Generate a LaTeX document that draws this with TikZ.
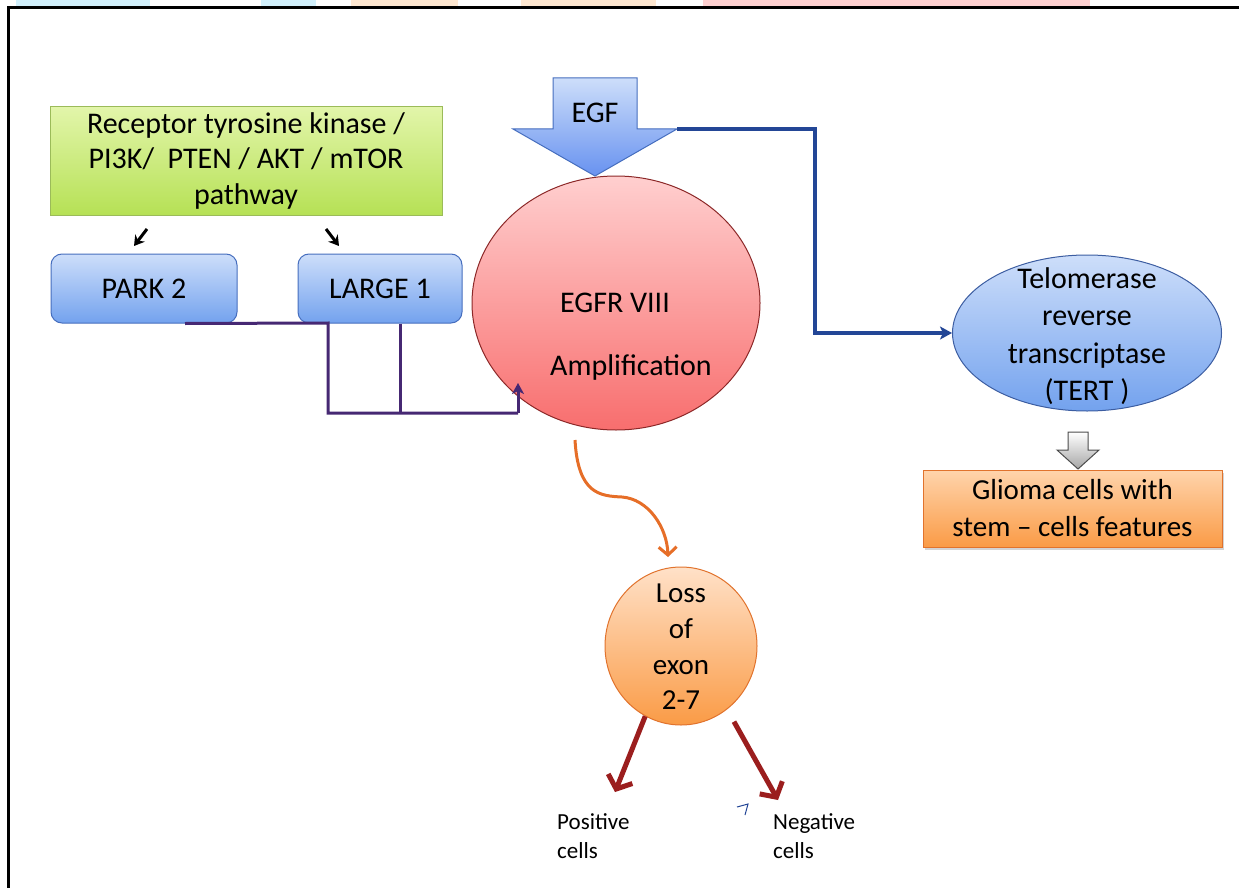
\documentclass[tikz,border=0pt]{standalone}
\usepackage{fontspec}
\setmainfont{Carlito}
\usetikzlibrary{arrows.meta,shapes.geometric,shadows}
\definecolor{greenTop}{RGB}{226,245,170}
\definecolor{greenBot}{RGB}{182,225,85}
\definecolor{greenEdge}{RGB}{155,187,89}
\definecolor{blueTop}{RGB}{205,222,250}
\definecolor{blueBot}{RGB}{115,162,238}
\definecolor{blueEdge}{RGB}{70,110,190}
\definecolor{redTop}{RGB}{255,207,207}
\definecolor{redBot}{RGB}{248,110,110}
\definecolor{redEdge}{RGB}{140,40,40}
\definecolor{orTop}{RGB}{255,225,200}
\definecolor{orBot}{RGB}{250,155,70}
\definecolor{orEdge}{RGB}{225,115,45}
\definecolor{lineBlue}{RGB}{35,70,150}
\definecolor{linePurple}{RGB}{70,40,115}
\definecolor{lineOrange}{RGB}{230,110,40}
\definecolor{lineRed}{RGB}{155,30,30}
\tikzset{
  txt/.style={inner sep=0pt, align=center, font=\fontsize{30}{37.5}\selectfont},
  smalltxt/.style={inner sep=0pt, align=left, font=\fontsize{23}{29}\selectfont},
  greenbox/.style={draw=greenEdge, line width=1pt, top color=greenTop, bottom color=greenBot,
    minimum width=392pt, minimum height=108pt, inner sep=0pt, align=center,
    font=\fontsize{30}{35.5}\selectfont},
  bluebox/.style={draw=blueEdge, line width=1pt, rounded corners=11pt, top color=blueTop,
    bottom color=blueBot, minimum width=#1, minimum height=69pt, inner sep=0pt,
    font=\fontsize{30}{36}\selectfont},
  redcirc/.style={ellipse, draw=redEdge, line width=1pt, top color=redTop, bottom color=redBot,
    minimum width=288pt, minimum height=254pt, inner sep=0pt},
  tertell/.style={ellipse, draw=blueEdge!85!black, line width=1pt, top color=blueTop,
    bottom color=blueBot, minimum width=269pt, minimum height=156pt, inner sep=0pt},
  orangecirc/.style={ellipse, draw=orEdge, line width=1pt, top color=orTop, bottom color=orBot,
    minimum width=152pt, minimum height=158pt, inner sep=0pt},
  gliomabox/.style={draw=orEdge, line width=1pt, top color={rgb,255:red,255;green,212;blue,172},
    bottom color=orBot, minimum width=299pt, minimum height=77pt, inner sep=0pt, align=center,
    font=\fontsize{29}{37}\selectfont,
    drop shadow={opacity=0.35, shadow xshift=2pt, shadow yshift=-3pt}},
  egfarrow/.style={draw=blueEdge, line width=1pt, top color=blueTop, bottom color=blueBot!90!blue},
  grayarrow/.style={draw=black!70, line width=1pt, top color=white, bottom color=black!35},
  blueline/.style={draw=lineBlue, line width=3.5pt, -{Stealth[length=12pt,width=13pt,inset=3pt]}},
  purpline/.style={draw=linePurple, line width=3pt},
  orangearr/.style={draw=lineOrange, line width=3pt, -{Straight Barb[length=8pt,width=18pt]}},
  redarr/.style={draw=lineRed, line width=5pt, -{Straight Barb[length=11pt,width=26pt]}},
  kinarr/.style={draw=black, line width=3pt, -{Stealth[length=10pt,width=12pt]}}
}
\begin{document}
\begin{tikzpicture}[x=1pt,y=-1pt]
  \useasboundingbox (0,0) rectangle (1239,888);

  % faint strip above the frame
  \fill[cyan!18] (16,0) rectangle (150,7);
  \fill[cyan!18] (261,0) rectangle (316,7);
  \fill[orange!18] (351,0) rectangle (458,7);
  \fill[orange!18] (521,0) rectangle (656,7);
  \fill[red!18] (703,0) rectangle (1090,7);
  \draw[line width=3pt] (8,888) -- (8,8) -- (1239,8);

  \node[greenbox] (rtk) at (246,161) {Receptor tyrosine kinase /\\PI3K/\ \ PTEN / AKT / mTOR\\pathway};
  \node[bluebox=186pt] (park) at (144,288.5) {PARK 2};
  \node[bluebox=164pt] (large) at (380,288.5) {LARGE 1};

  \coordinate (k1) at (147,229);
  \coordinate (k2) at (134,246);
  \coordinate (k3) at (326,229);
  \coordinate (k4) at (339,246);
  \draw[kinarr] (k1) -- (k2);
  \draw[kinarr] (k3) -- (k4);

  \node[redcirc] (egfr) at (616,303) {};
  \node[txt] (egfrtop) at (615,303) {EGFR VIII};
  \node[txt] (egframp) at (631,367) {Amplification};

  % EGF block arrow
  \coordinate (egfR) at (677,129);
  \path[egfarrow] (553,78) -- (637,78) -- (637,129) -- (egfR) -- (595,176) -- (513,129) -- (553,129) -- cycle;
  \node[txt] (egf) at (595,113) {EGF};

  \node[tertell] (tert) at (1087,333) {};
  \node[txt] (terttxt) at (1087,336) {Telomerase\\reverse\\transcriptase\\(TERT )};

  \path[grayarrow] (1068,432) -- (1088,432) -- (1088,450) -- (1099,450) -- (1078,469) -- (1057,450) -- (1068,450) -- cycle;
  \node[gliomabox] (glioma) at (1072.5,508.5) {Glioma cells with\\stem – cells features};

  \node[orangecirc] (loss) at (681,646) {};
  \node[txt, font=\fontsize{29}{35.7}\selectfont] (losstxt) at (681,647) {Loss\\of\\exon\\2-7};

  \node[smalltxt, anchor=north west] (pos) at (557,813) {Positive\\cells};
  \node[smalltxt, anchor=north west] (neg) at (773,813) {Negative\\cells};

  % connectors
  \coordinate (egfrin) at (518,383);
  \draw[purpline] ([xshift=41pt]park.south) -- (328,323) -- (328,413) -- (518,413);
  \draw[purpline, -{Stealth[length=11pt,width=12pt,inset=3pt]}] (518,413) -- (egfrin);
  \draw[purpline] ([xshift=20pt]large.south) -- ++(0,90);

  \draw[blueline] (egfR) -- (815,129) |- (tert.west);

  \coordinate (losssrc) at (575,440);
  \coordinate (lossin) at (668,557);
  \draw[orangearr] (losssrc) .. controls (578,494) and (600,496) .. (622,497) .. controls (648,499) and (667,527) .. (lossin);

  \coordinate (posend) at (615,792);
  \coordinate (negend) at (778,800);
  \draw[redarr] (loss.243) -- (posend);
  \draw[redarr, shorten <=14pt] (loss.306) -- (negend);

  \draw[lineBlue, line width=1pt] (737,807) -- (748,804) -- (745,815);
\end{tikzpicture}
\end{document}
